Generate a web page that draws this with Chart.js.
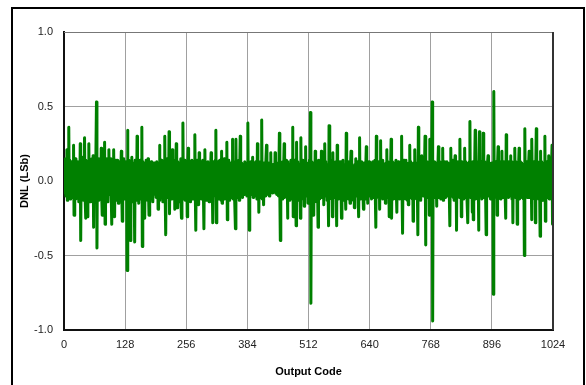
<!DOCTYPE html>
<html>
<head>
<meta charset="utf-8">
<script src="https://cdn.jsdelivr.net/npm/chart.js@4.4.1/dist/chart.umd.min.js"></script>
<style>
  html, body { margin: 0; padding: 0; background: #fff; overflow: hidden; }
  #wrap { position: relative; width: 586px; height: 385px; }
  #frame { position: absolute; left: 11px; top: 7px; width: 574px; height: 400px;
           border: 2px solid #000; box-sizing: border-box; pointer-events: none; }
  canvas { position: absolute; left: 0; top: 0; }
</style>
</head>
<body>
<div id="wrap">
  <canvas id="dnlChart" width="586" height="385"></canvas>
  <div id="frame"></div>
</div>
<script>
// DNL per output code, in hundredths of an LSb
const dnlCenti = [
  0,12,-8,15,-10,6,21,-13,9,-6,36,-9,14,-12,7,-4,13,-11,10,-7,24,-23,11,-5,15,-12,6,-9,13,-3,9,-14,
  8,-7,25,-40,12,-10,16,-6,11,-13,5,29,-8,-25,14,-9,10,-24,13,-5,25,-12,8,-14,12,-6,15,-10,7,17,-31,10,
  -8,14,-12,9,53,-45,11,-7,15,-13,6,-9,13,-4,22,-10,-23,12,-6,14,-11,26,-29,10,-5,15,-12,8,-14,11,21,-9,
  12,-6,15,-11,-29,13,-8,10,21,-12,-24,14,-7,11,-13,14,-9,8,-15,12,-5,13,-10,7,20,-8,-27,12,-6,15,-12,9,
  -10,13,-7,11,-60,34,-12,14,-9,12,-6,-40,13,-8,16,-11,10,-14,12,-5,-41,14,-10,8,-13,30,-9,12,-15,11,-6,14,
  -12,9,-8,36,-44,13,-7,12,-14,-25,11,-6,14,-10,9,-13,15,-8,-23,12,-5,10,-12,13,-7,11,-14,8,-9,12,-6,9,
  10,-11,13,-6,11,-19,12,-8,24,-13,9,-10,14,-7,12,-14,10,-5,13,30,-12,-36,11,-8,15,-11,9,-6,33,-22,12,-9,
  13,-12,8,21,-10,12,-7,14,-19,11,-6,25,-11,-18,13,-9,10,-14,12,-5,15,-10,-25,12,-7,39,-12,11,-8,14,-13,9,
  -6,12,-24,10,22,-11,13,-8,11,-14,9,-6,14,-12,10,-9,13,-7,31,-10,-33,12,-8,14,-11,9,-16,19,-10,12,-6,13,
  -12,10,-7,14,-10,-32,12,21,-9,11,-13,8,-6,13,-11,10,-14,12,-5,9,19,-12,11,-8,-28,13,-10,12,-7,14,34,-28,
  11,-9,13,-12,8,-6,14,-11,10,-13,20,-15,12,-7,11,-10,15,-12,9,-8,13,26,-26,11,-6,14,-13,10,-9,12,-11,8,
  -10,28,-12,13,-8,11,-14,-32,28,-9,12,-11,10,-6,14,-13,9,30,-10,12,-8,11,-11,9,-7,10,13,-9,11,-6,12,-10,
  9,39,-10,12,-33,11,-8,13,-9,10,-7,16,-11,12,-6,9,-10,13,-8,11,-12,25,-9,12,-21,10,-7,13,-11,8,41,-12,
  10,-8,-16,12,-7,9,-10,11,24,-9,10,-6,12,-8,-10,9,-5,19,-7,10,-6,-8,11,-5,9,-7,19,-8,10,-9,12,-6,
  11,-10,8,32,-9,-40,12,-7,10,-12,13,-6,9,25,-11,12,-8,14,-10,9,-25,13,-7,11,-13,10,-9,14,-11,8,-12,36,
  -24,12,-9,14,-11,10,-30,26,-10,13,-7,11,-13,9,-6,-25,29,-11,12,-8,14,-12,10,-17,13,-9,23,-10,12,-7,11,-15,
  12,-8,14,-11,46,-82,13,-9,11,-12,10,-23,12,-7,20,-10,13,-14,9,-6,-31,14,-9,11,-12,10,-7,20,-11,13,-8,10,
  -16,12,25,-10,13,-8,11,-13,9,-7,-30,37,-11,12,-9,14,-12,10,-24,19,-8,12,-11,9,-6,13,-10,-30,24,-9,11,-12,
  10,-7,13,-11,9,-25,12,-8,14,-10,11,-13,8,-6,-19,32,-10,12,-9,13,-12,10,-7,-15,11,20,-11,12,-8,10,-13,9,
  -18,11,-9,15,-10,12,-7,13,-11,-24,10,29,-12,11,-8,13,-10,9,-6,-19,12,-9,11,-12,10,23,-11,12,-15,9,-7,13,
  -10,12,-8,11,-12,9,-6,13,-11,10,-9,14,-12,-31,30,-10,12,-8,13,-11,9,-19,11,27,-10,12,-7,14,-12,10,-9,11,
  9,-15,12,-9,21,-11,13,-8,10,-24,12,-7,11,28,-25,13,-9,10,-12,12,-6,9,-11,14,-8,-21,12,-10,13,-7,11,-12,
  10,-9,13,30,-11,-35,12,-8,14,-10,9,-12,14,-7,11,-13,10,-16,12,-9,24,-11,13,-8,10,-12,9,-27,12,-7,11,21,
  -10,12,-12,10,-8,-36,36,-11,13,-9,11,-13,10,17,-8,12,-10,13,-7,11,30,-43,12,-9,13,-11,10,-7,12,-23,28,-10,
  12,-9,13,53,-94,11,-10,13,-8,12,-11,9,-17,12,-7,10,23,-11,13,-9,11,-12,9,-6,12,22,-13,11,-9,13,-11,10,
  -8,11,13,-10,12,-9,10,-12,-30,11,22,-10,12,-8,14,-11,9,-13,11,17,-9,12,-33,13,-10,11,-7,12,-11,28,-9,12,
  -24,13,-9,11,-12,10,-7,22,-11,13,-8,12,-13,10,-28,12,-9,13,40,-11,12,-8,10,-21,13,-26,12,-9,11,34,-12,10,
  -9,13,-11,12,-33,11,33,-10,13,-8,12,-12,10,-7,32,-11,13,-9,11,-13,-36,12,-8,13,17,-10,12,-9,11,-12,10,-7,
  12,-11,10,-76,60,-10,12,-9,13,-11,10,-23,12,23,-10,13,-8,11,-12,10,-7,20,-11,12,-9,13,-10,11,-12,-25,31,-10,
  12,-9,13,-11,10,-8,12,17,-10,13,-12,9,-28,12,-9,11,22,-11,13,-8,10,-29,12,-9,11,22,-12,13,-8,10,-11,12,
  -9,11,-12,10,-50,35,-10,12,-9,13,-11,10,-8,12,20,-11,13,-9,11,-26,28,-10,12,-8,13,-12,10,-28,12,35,-11,13,
  -9,12,-12,10,-8,-37,20,-10,13,-9,12,-13,10,-7,12,30,-27,11,-9,13,-11,10,-8,17,-12,11,-9,13,-10,12,24,-29
];
const codes = dnlCenti.map((_, i) => i);
const xTicks = [0, 128, 256, 384, 512, 640, 768, 896, 1024];
const yTicks = [-1.0, -0.5, 0.0, 0.5, 1.0];

const plotEdges = {
  id: 'plotEdges',
  afterDraw(chart) {
    const { ctx, chartArea: a } = chart;
    ctx.save();
    ctx.strokeStyle = '#777';
    ctx.lineWidth = 1;
    ctx.beginPath();
    ctx.moveTo(a.left, a.top + 0.5);
    ctx.lineTo(a.right, a.top + 0.5);
    ctx.stroke();
    ctx.strokeStyle = '#333';
    ctx.lineWidth = 2;
    ctx.beginPath();
    ctx.moveTo(a.right, a.top);
    ctx.lineTo(a.right, a.bottom);
    ctx.stroke();
    ctx.restore();
  }
};

const tickFont = { family: 'Arial, "Liberation Sans", sans-serif', size: 11 };
const titleFont = { family: 'Arial, "Liberation Sans", sans-serif', size: 11, weight: 'bold' };

new Chart(document.getElementById('dnlChart'), {
  type: 'line',
  data: {
    datasets: [{
      data: codes.map(i => ({ x: i, y: dnlCenti[i] / 100 })),
      borderColor: '#008000',
      borderWidth: 3,
      borderJoinStyle: 'round',
      pointRadius: 0,
      tension: 0,
      fill: false
    }]
  },
  options: {
    responsive: false,
    animation: false,
    devicePixelRatio: 1,
    layout: { padding: { left: 0, top: 32, right: 33, bottom: 0 } },
    plugins: { legend: { display: false }, tooltip: { enabled: false } },
    scales: {
      x: {
        type: 'linear',
        min: 0,
        max: 1024,
        afterBuildTicks: s => { s.ticks = xTicks.map(v => ({ value: v })); },
        afterFit: s => { s.height = 55; },
        grid: { color: '#a0a0a0', lineWidth: 1, drawTicks: false },
        border: { color: '#111', width: 2 },
        ticks: { font: tickFont, color: '#222', padding: 8, maxRotation: 0, autoSkip: false,
                 callback: v => String(v) },
        title: { display: true, text: 'Output Code', font: titleFont, color: '#000', padding: { top: 0, bottom: 6 } }
      },
      y: {
        min: -1,
        max: 1,
        afterBuildTicks: s => { s.ticks = yTicks.map(v => ({ value: v })); },
        afterFit: s => { s.width = 64; },
        grid: { color: '#a0a0a0', lineWidth: 1, drawTicks: false },
        border: { color: '#111', width: 2 },
        ticks: { font: tickFont, color: '#222', padding: 11, callback: v => v.toFixed(1) },
        title: { display: true, text: 'DNL (LSb)', font: titleFont, color: '#000', padding: { top: 18, bottom: 0 } }
      }
    }
  },
  plugins: [plotEdges]
});
</script>
</body>
</html>
